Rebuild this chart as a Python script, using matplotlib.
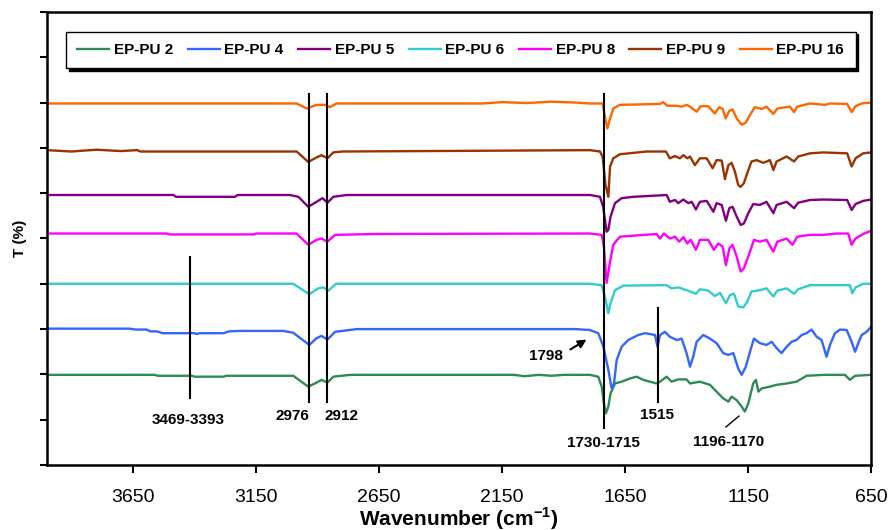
import matplotlib.pyplot as plt

plt.rcParams['font.family'] = ['Liberation Sans', 'DejaVu Sans']
plt.rcParams['mathtext.fontset'] = 'custom'
plt.rcParams['mathtext.bf'] = 'Liberation Sans:bold'
plt.rcParams['mathtext.rm'] = 'Liberation Sans:bold'

# spectra: wavenumber (cm-1) and T (%)
wn_pu2 = [4000, 3561, 3550, 3412, 3400, 3283, 3270, 2999, 2938, 2904, 2884, 2860, 2836, 2768,
          2100, 2060, 2000, 1950, 1900, 1793, 1759, 1745, 1736, 1728, 1718, 1709, 1691, 1664,
          1630, 1603, 1576, 1549, 1522, 1508, 1481, 1461, 1434, 1400, 1386, 1346, 1305, 1278,
          1251, 1230, 1217, 1196, 1176, 1163, 1149, 1129, 1118, 1108, 1095, 1061, 1034, 993,
          953, 912, 844, 756, 736, 715, 650]
t_pu2 = [19.9, 19.9, 19.7, 19.7, 19.5, 19.5, 19.7, 19.7, 17.3, 18.2, 18.8, 18.2, 19.5, 19.9,
         19.9, 19.6, 19.9, 19.7, 19.9, 19.9, 19.5, 17.3, 13.6, 11.4, 12.9, 15.8, 18.0, 18.4,
         19.1, 19.5, 18.8, 18.4, 18.0, 18.4, 19.5, 18.4, 18.9, 18.9, 18.0, 18.4, 17.7, 16.2,
         14.7, 14.0, 15.1, 14.3, 12.9, 11.8, 13.6, 18.0, 18.8, 16.2, 16.9, 17.3, 17.7, 18.0,
         18.4, 19.7, 19.9, 19.9, 18.8, 19.7, 19.9]

wn_pu4 = [4000, 3663, 3640, 3595, 3580, 3554, 3530, 3400, 3392, 3380, 3283, 3260, 3215, 3039,
          3020, 2999, 2934, 2904, 2884, 2860, 2829, 2741, 1850, 1793, 1759, 1738, 1718, 1705,
          1695, 1684, 1664, 1637, 1596, 1569, 1528, 1518, 1508, 1488, 1468, 1440, 1420, 1400,
          1386, 1373, 1359, 1332, 1305, 1278, 1251, 1230, 1210, 1190, 1176, 1159, 1140, 1126,
          1102, 1075, 1054, 1034, 1014, 993, 973, 953, 932, 912, 892, 871, 851, 831, 817, 797,
          776, 749, 729, 715, 702, 688, 668, 650]
t_pu4 = [30.1, 30.1, 29.9, 29.9, 29.5, 29.5, 29.1, 29.1, 28.9, 29.1, 29.1, 29.5, 29.6, 29.6,
         29.4, 29.2, 26.5, 28.0, 28.5, 27.7, 29.4, 30.0, 30.0, 29.8, 29.1, 26.1, 21.0, 17.0,
         18.0, 23.2, 26.1, 27.6, 28.7, 29.1, 28.7, 26.1, 28.7, 29.4, 28.3, 27.6, 27.9, 24.7,
         21.7, 23.9, 27.2, 28.7, 27.9, 26.9, 24.7, 24.3, 24.7, 21.3, 19.9, 21.7, 25.4, 27.9,
         26.9, 26.5, 27.2, 25.8, 24.7, 26.1, 27.2, 27.6, 28.7, 29.1, 29.9, 28.3, 27.6, 23.9,
         26.5, 29.1, 29.9, 29.8, 27.2, 25.0, 26.9, 28.7, 29.4, 30.5]

wn_pu5 = [4000, 3486, 3475, 3236, 3225, 3012, 2978, 2938, 2904, 2880, 2860, 2836, 2782, 1793,
          1752, 1739, 1725, 1718, 1709, 1691, 1664, 1617, 1481, 1468, 1447, 1434, 1413, 1393,
          1379, 1362, 1346, 1318, 1291, 1278, 1257, 1240, 1226, 1213, 1196, 1180, 1167, 1149,
          1129, 1102, 1075, 1047, 1034, 993, 963, 946, 898, 844, 747, 729, 713, 682, 650]
t_pu5 = [59.6, 59.6, 59.2, 59.2, 59.6, 59.6, 59.2, 57.0, 58.1, 58.9, 57.9, 59.2, 59.6, 59.6,
         59.2, 57.0, 51.5, 51.9, 54.8, 57.8, 58.9, 59.2, 59.6, 58.1, 58.5, 57.8, 58.6, 57.8,
         58.1, 56.4, 58.1, 58.3, 55.9, 57.8, 57.4, 53.9, 56.7, 57.0, 54.8, 53.0, 53.3, 55.6,
         57.6, 57.4, 58.1, 55.6, 57.4, 58.1, 56.7, 57.9, 58.5, 58.6, 58.5, 56.3, 57.6, 58.3,
         58.6]

wn_pu6 = [4000, 2999, 2934, 2897, 2877, 2856, 2825, 1793, 1745, 1732, 1718, 1709, 1691, 1657,
          1481, 1461, 1434, 1400, 1362, 1346, 1312, 1285, 1264, 1240, 1224, 1207, 1190, 1169,
          1153, 1136, 1102, 1075, 1047, 1031, 993, 963, 946, 898, 736, 726, 713, 682, 650]
t_pu6 = [40.0, 40.0, 37.7, 39.0, 39.2, 38.5, 40.0, 40.0, 39.7, 37.2, 33.5, 35.7, 38.6, 39.6,
         39.7, 39.0, 39.2, 38.6, 37.8, 38.8, 38.5, 37.3, 38.0, 35.7, 37.5, 37.8, 35.0, 34.8,
         36.1, 38.3, 38.6, 39.0, 37.2, 38.5, 39.0, 37.8, 38.8, 39.7, 39.7, 37.9, 39.2, 40.0,
         40.0]

wn_pu8 = [4000, 3514, 3500, 3161, 3150, 2985, 2938, 2904, 2884, 2860, 2829, 2660, 1793, 1745,
          1736, 1725, 1711, 1698, 1671, 1522, 1508, 1492, 1468, 1447, 1430, 1413, 1397, 1383,
          1362, 1346, 1312, 1289, 1271, 1253, 1240, 1226, 1213, 1196, 1180, 1167, 1149, 1126,
          1102, 1075, 1047, 1031, 993, 969, 950, 898, 844, 790, 743, 729, 713, 682, 650]
t_pu8 = [51.1, 51.1, 50.9, 50.9, 51.1, 51.1, 48.6, 49.7, 50.0, 49.3, 50.8, 51.0, 51.1, 50.8,
         48.2, 40.2, 44.9, 48.6, 50.4, 51.0, 50.0, 51.1, 50.0, 50.4, 49.3, 50.3, 48.9, 49.7,
         47.5, 49.7, 49.7, 47.5, 48.9, 48.2, 44.1, 47.8, 48.6, 46.0, 42.7, 43.4, 46.0, 49.7,
         49.3, 49.7, 47.1, 49.3, 50.0, 48.6, 50.4, 50.8, 50.8, 51.1, 51.1, 48.6, 50.0, 51.0,
         51.7]

wn_pu9 = [4000, 3900, 3800, 3700, 3634, 3620, 2985, 2938, 2904, 2884, 2860, 2836, 2800, 1793,
          1752, 1741, 1730, 1718, 1711, 1698, 1671, 1562, 1484, 1468, 1447, 1427, 1413, 1397,
          1386, 1366, 1346, 1318, 1294, 1278, 1257, 1244, 1230, 1217, 1203, 1190, 1180, 1167,
          1156, 1136, 1115, 1088, 1061, 1047, 1034, 993, 963, 946, 898, 844, 747, 729, 713,
          682, 650]
t_pu9 = [69.5, 69.2, 69.6, 69.3, 69.5, 69.2, 69.2, 66.9, 67.9, 68.4, 67.7, 69.0, 69.2, 69.5,
         69.2, 68.0, 62.0, 59.2, 65.9, 67.7, 68.6, 69.2, 69.2, 67.7, 68.2, 67.7, 68.4, 67.7,
         68.1, 66.2, 67.7, 67.7, 65.5, 67.3, 67.2, 63.1, 66.2, 66.7, 64.7, 61.8, 61.4, 62.2,
         64.0, 67.0, 67.3, 66.7, 67.3, 65.1, 67.0, 68.1, 67.0, 68.1, 68.8, 69.0, 68.8, 65.9,
         67.7, 68.8, 69.0]

wn_pu16 = [4000, 2985, 2944, 2904, 2870, 2850, 2823, 2230, 2150, 2050, 1950, 1850, 1793, 1741,
           1732, 1722, 1711, 1698, 1671, 1508, 1495, 1478, 1440, 1420, 1400, 1386, 1359, 1343,
           1312, 1285, 1267, 1253, 1241, 1226, 1213, 1196, 1176, 1159, 1142, 1122, 1095, 1075,
           1047, 1031, 980, 963, 950, 898, 837, 817, 747, 729, 713, 688, 650]
t_pu16 = [79.8, 79.8, 78.7, 79.5, 79.5, 79.0, 79.8, 79.8, 80.1, 79.9, 80.2, 80.0, 79.8, 79.8,
          76.9, 74.3, 76.5, 78.7, 79.5, 79.7, 80.1, 79.3, 79.3, 79.1, 79.5, 79.1, 78.0, 79.2,
          79.2, 77.6, 79.0, 78.6, 76.5, 78.2, 78.5, 76.5, 75.1, 75.6, 77.3, 79.0, 78.6, 79.1,
          77.5, 78.7, 79.1, 77.9, 79.1, 79.8, 79.5, 79.8, 79.7, 77.9, 79.2, 79.8, 80.0]

names = ['EP-PU 2', 'EP-PU 4', 'EP-PU 5', 'EP-PU 6', 'EP-PU 8', 'EP-PU 9', 'EP-PU 16']
colors = ['#2E8B57', '#3366FF', '#800080', '#33CCCC', '#FF00FF', '#993300', '#FF6600']
series = [(wn_pu2, t_pu2), (wn_pu4, t_pu4), (wn_pu5, t_pu5), (wn_pu6, t_pu6),
          (wn_pu8, t_pu8), (wn_pu9, t_pu9), (wn_pu16, t_pu16)]

# peak marker lines: wavenumber, top, bottom
mark_wn = [3419, 2935, 2862, 1735, 1515]
mark_top = [45.9, 81.9, 81.9, 81.9, 34.7]
mark_bot = [14.8, 13.9, 13.9, 8.2, 13.9]

peak_text = ['3469-3393', '2976', '2912', '1730-1715', '1515', '1196-1170']
peak_x = [3427, 3004, 2801, 1736, 1520, 1228]
peak_y = [9.9, 10.8, 10.8, 4.9, 11.0, 5.1]

fig = plt.figure(figsize=(8.89, 5.30), dpi=100)
ax = fig.add_axes([0.0529, 0.1226, 0.9269, 0.8548])

for (wn, t), name, col in zip(series, names, colors):
    ax.plot(wn, t, color=col, lw=1.7, label=name)

for x, y1, y0 in zip(mark_wn, mark_top, mark_bot):
    ax.plot([x, x], [y0, y1], color='black', lw=1.5, zorder=5)
ax.plot([1240, 1187], [8.4, 10.8], color='black', lw=1.0, zorder=5)

for s, x, y in zip(peak_text, peak_x, peak_y):
    ax.text(x, y, s, ha='center', va='center', fontsize=11, fontweight='bold')

ax.annotate('', xy=(1797, 28.0), xytext=(1882, 25.2),
            arrowprops=dict(arrowstyle='-|>', color='black', lw=1.5, mutation_scale=12))
ax.text(1972, 24.1, '1798', ha='center', va='center', fontsize=11, fontweight='bold')

ax.set_xlim(4000, 650)
ax.set_ylim(0, 100)
ax.set_xticks([3650, 3150, 2650, 2150, 1650, 1150, 650])
ax.set_yticks(range(0, 101, 10))
ax.set_yticklabels([])
ax.tick_params(axis='x', direction='out', length=6, width=1.5, pad=11, labelsize=14)
ax.tick_params(axis='y', direction='out', length=5, width=1.5)
for sp in ax.spines.values():
    sp.set_linewidth(1.8)

ax.set_xlabel(r'Wavenumber (cm$^{\mathbf{-1}}$)', fontsize=15, fontweight='bold', labelpad=0)
ax.set_ylabel('T (%)', fontsize=11, fontweight='bold')
ax.yaxis.set_label_coords(-0.024, 0.5)

leg = ax.legend(loc='center', bbox_to_anchor=(0.502, 0.916), ncol=7, fancybox=False,
                shadow={'color': 'black', 'alpha': 1}, edgecolor='black', framealpha=1,
                prop={'weight': 'bold', 'size': 11}, handlelength=2.1, handletextpad=0.3,
                columnspacing=0.95, borderpad=0.75)
leg.get_frame().set_linewidth(1.0)

fig.savefig('out.png', dpi=100)
